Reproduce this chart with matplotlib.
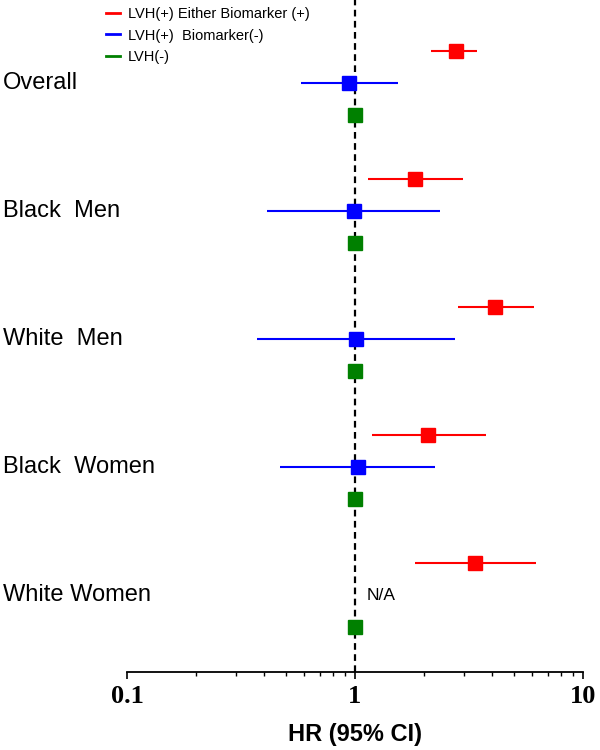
import matplotlib
matplotlib.use("Agg")
import matplotlib.pyplot as plt
from matplotlib.lines import Line2D
from matplotlib.transforms import blended_transform_factory
import numpy as np

# ---- data ----
groups = ["Overall", "Black  Men", "White  Men", "Black  Women", "White Women"]
series = ["LVH(+) Either Biomarker (+)", "LVH(+)  Biomarker(-)", "LVH(-)"]
colors = ["#ff0000", "#0000ff", "#008000"]

red_hr = [2.76, 1.83, 4.11, 2.09, 3.36]
red_lo = [2.15, 1.14, 2.83, 1.19, 1.83]
red_hi = [3.43, 2.98, 6.10, 3.75, 6.22]

blue_hr = [0.94, 0.99, 1.01, 1.03, None]
blue_lo = [0.58, 0.41, 0.37, 0.47, None]
blue_hi = [1.54, 2.36, 2.75, 2.24, None]

green_hr = [1.0, 1.0, 1.0, 1.0, 1.0]

xticks = [0.1, 1, 10]
xtick_labels = ["0.1", "1", "10"]

# ---- figure ----
fig = plt.figure(figsize=(6, 7.5), dpi=100)
ax = fig.add_axes([127/600, 78/750, 456/600, 672/750])

def row(g, s):
    return 4 * g + s

for g in range(len(groups)):
    # red
    y = row(g, 0)
    ax.plot([red_lo[g], red_hi[g]], [y, y], color=colors[0], lw=1.5, solid_capstyle='butt', zorder=3)
    ax.plot([red_hr[g]], [y], marker='s', ms=9.5, color=colors[0], zorder=4)
    # blue
    y = row(g, 1)
    if blue_hr[g] is not None:
        ax.plot([blue_lo[g], blue_hi[g]], [y, y], color=colors[1], lw=1.5, solid_capstyle='butt', zorder=3)
        ax.plot([blue_hr[g]], [y], marker='s', ms=9.5, color=colors[1], zorder=4)
    else:
        ax.text(1.12, y, "N/A", ha='left', va='center', fontsize=12.5,
                family='Liberation Sans', color='black')
    # green
    y = row(g, 2)
    ax.plot([green_hr[g]], [y], marker='s', ms=9.5, color=colors[2], zorder=4)

ax.axvline(1, color='black', lw=1.6, ls=(0, (3, 2)), zorder=2)

ax.set_xscale('log')
ax.set_xlim(0.1, 10)
ax.set_ylim(19.4, -1.6)
ax.set_xticks(xticks)
ax.set_xticklabels(xtick_labels, fontsize=19, fontweight='bold', family='Liberation Serif')
ax.set_yticks([])
for sp in ['top', 'right', 'left']:
    ax.spines[sp].set_visible(False)
ax.spines['bottom'].set_linewidth(1.3)
ax.tick_params(axis='x', which='major', direction='out', length=5, width=1.2, pad=4.5)
ax.tick_params(axis='x', which='minor', direction='out', length=3, width=1.0)
ax.set_xlabel("HR (95% CI)", fontsize=17, fontweight='bold', family='Liberation Sans', labelpad=11)

trans = blended_transform_factory(fig.transFigure, ax.transData)
for g, name in enumerate(groups):
    ax.text(3/600, row(g, 1), name, transform=trans, ha='left', va='center',
            fontsize=17, family='Liberation Sans', color='black')

handles = [Line2D([0], [0], color=c, lw=2) for c in colors]
leg = ax.legend(handles, series, loc='upper left', bbox_to_anchor=(99/600, 1.0),
                bbox_transform=fig.transFigure, frameon=False, borderpad=0.47,
                borderaxespad=0, handlelength=1.0, handletextpad=0.5,
                labelspacing=0.53, prop={'family': 'Liberation Sans', 'size': 10.5})

fig.savefig("out.png", dpi=100)
